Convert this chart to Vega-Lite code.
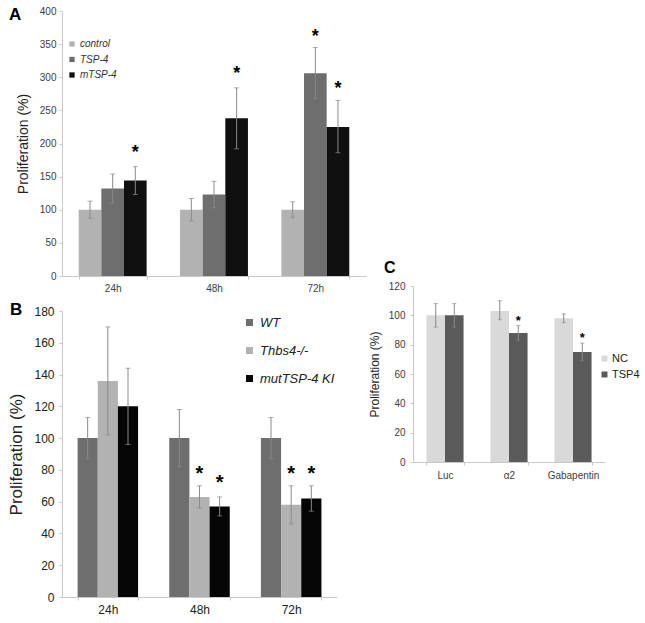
{
  "$schema": "https://vega.github.io/schema/vega-lite/v6.json",
  "padding": {"left": 7, "top": 6, "right": 0, "bottom": 0},
  "config": {
    "view": {"stroke": null},
    "font": "Liberation Sans",
    "axis": {"domainColor": "#c8c8c8", "tickColor": "#c8c8c8", "tickSize": 3, "labelColor": "#404040", "titleColor": "#222222", "titleFontWeight": "normal", "grid": false, "labelFont": "Liberation Sans", "titleFont": "Liberation Sans", "labelOverlap": false, "labelFlush": false},
    "legend": {"labelFont": "Liberation Sans", "labelColor": "#333333"},
    "title": {"font": "Liberation Sans", "fontWeight": "bold", "color": "#000000"}
  },
  "resolve": {"scale": {"color": "independent", "x": "independent", "y": "independent", "xOffset": "independent"}, "legend": {"color": "independent"}},
  "spacing": 2,
  "hconcat": [
    {
      "spacing": 8,
      "resolve": {"scale": {"color": "independent", "x": "independent", "y": "independent", "xOffset": "independent"}, "legend": {"color": "independent"}},
      "vconcat": [
        {
          "width": 304,
          "height": 265,
          "title": {"text": "A", "anchor": "start", "frame": "group", "fontSize": 17, "dx": -53, "dy": 18, "offset": 0, "baseline": "top"},
          "data": {"values": [
            {"time": "24h", "group": "control", "value": 100, "lo": 87, "hi": 113, "star": null},
            {"time": "24h", "group": "TSP-4", "value": 132, "lo": 110, "hi": 154, "star": null},
            {"time": "24h", "group": "mTSP-4", "value": 144, "lo": 123, "hi": 165, "star": 195},
            {"time": "48h", "group": "control", "value": 100, "lo": 83, "hi": 117, "star": null},
            {"time": "48h", "group": "TSP-4", "value": 123, "lo": 103, "hi": 143, "star": null},
            {"time": "48h", "group": "mTSP-4", "value": 238, "lo": 192, "hi": 284, "star": 314},
            {"time": "72h", "group": "control", "value": 100, "lo": 88, "hi": 112, "star": null},
            {"time": "72h", "group": "TSP-4", "value": 306, "lo": 268, "hi": 345, "star": 370},
            {"time": "72h", "group": "mTSP-4", "value": 225, "lo": 186, "hi": 265, "star": 292}
          ]},
          "encoding": {
            "x": {"field": "time", "type": "nominal", "sort": ["24h", "48h", "72h"], "scale": {"paddingInner": 0.33, "paddingOuter": 0.165}, "axis": {"title": null, "labelAngle": 0, "tickBand": "extent", "labelFontSize": 10, "labelPadding": 4}},
            "xOffset": {"field": "group", "type": "nominal", "sort": ["control", "TSP-4", "mTSP-4"], "scale": {"paddingInner": 0, "paddingOuter": 0}}
          },
          "layer": [
            {
              "mark": {"type": "bar"},
              "encoding": {
                "y": {"field": "value", "type": "quantitative", "scale": {"domain": [0, 400], "nice": false}, "axis": {"title": "Proliferation (%)", "values": [0, 50, 100, 150, 200, 250, 300, 350, 400], "labelFontSize": 10, "labelPadding": 3, "titleFontSize": 14, "titlePadding": 9}},
                "color": {"field": "group", "type": "nominal", "sort": ["control", "TSP-4", "mTSP-4"], "scale": {"domain": ["control", "TSP-4", "mTSP-4"], "range": ["#b2b2b2", "#6e6e6e", "#101010"]}, "legend": {"title": null, "orient": "none", "legendX": 5, "legendY": 28, "symbolType": "square", "symbolSize": 28, "labelFontSize": 10, "labelFontStyle": "italic", "rowPadding": 5.5, "labelOffset": 3}}
              }
            },
            {"mark": {"type": "rule", "color": "#8a8a8a", "strokeWidth": 1}, "encoding": {"y": {"field": "lo", "type": "quantitative", "axis": {"title": "Proliferation (%)", "values": [0, 50, 100, 150, 200, 250, 300, 350, 400], "labelFontSize": 10, "labelPadding": 3, "titleFontSize": 14, "titlePadding": 9}}, "y2": {"field": "hi"}}},
            {"mark": {"type": "tick", "color": "#8a8a8a", "size": 5, "thickness": 1}, "encoding": {"y": {"field": "lo", "type": "quantitative", "axis": {"title": "Proliferation (%)", "values": [0, 50, 100, 150, 200, 250, 300, 350, 400], "labelFontSize": 10, "labelPadding": 3, "titleFontSize": 14, "titlePadding": 9}}}},
            {"mark": {"type": "tick", "color": "#8a8a8a", "size": 5, "thickness": 1}, "encoding": {"y": {"field": "hi", "type": "quantitative", "axis": {"title": "Proliferation (%)", "values": [0, 50, 100, 150, 200, 250, 300, 350, 400], "labelFontSize": 10, "labelPadding": 3, "titleFontSize": 14, "titlePadding": 9}}}},
            {"transform": [{"filter": "datum.star != null"}], "mark": {"type": "text", "text": "*", "fontSize": 18, "fontWeight": "bold", "color": "#000000", "dy": 6}, "encoding": {"y": {"field": "star", "type": "quantitative", "axis": {"title": "Proliferation (%)", "values": [0, 50, 100, 150, 200, 250, 300, 350, 400], "labelFontSize": 10, "labelPadding": 3, "titleFontSize": 14, "titlePadding": 9}}}}
          ]
        },
        {
          "width": 275,
          "height": 286,
          "title": {"text": "B", "anchor": "start", "frame": "group", "fontSize": 17, "dx": -52, "dy": 14, "offset": 0, "baseline": "top"},
          "data": {"values": [
            {"time": "24h", "group": "WT", "value": 100, "lo": 87, "hi": 113, "star": null},
            {"time": "24h", "group": "Thbs4-/-", "value": 136, "lo": 102, "hi": 170, "star": null},
            {"time": "24h", "group": "mutTSP-4 KI", "value": 120, "lo": 96, "hi": 144, "star": null},
            {"time": "48h", "group": "WT", "value": 100, "lo": 82, "hi": 118, "star": null},
            {"time": "48h", "group": "Thbs4-/-", "value": 63, "lo": 56, "hi": 70, "star": 82},
            {"time": "48h", "group": "mutTSP-4 KI", "value": 57, "lo": 51, "hi": 63, "star": 76},
            {"time": "72h", "group": "WT", "value": 100, "lo": 87, "hi": 113, "star": null},
            {"time": "72h", "group": "Thbs4-/-", "value": 58, "lo": 46, "hi": 70, "star": 82},
            {"time": "72h", "group": "mutTSP-4 KI", "value": 62, "lo": 54, "hi": 70, "star": 82}
          ]},
          "encoding": {
            "x": {"field": "time", "type": "nominal", "sort": ["24h", "48h", "72h"], "scale": {"paddingInner": 0.34, "paddingOuter": 0.17}, "axis": {"title": null, "labelAngle": 0, "tickBand": "extent", "labelFontSize": 12, "labelColor": "#222222", "labelPadding": 4}},
            "xOffset": {"field": "group", "type": "nominal", "sort": ["WT", "Thbs4-/-", "mutTSP-4 KI"], "scale": {"paddingInner": 0, "paddingOuter": 0}}
          },
          "layer": [
            {
              "mark": {"type": "bar"},
              "encoding": {
                "y": {"field": "value", "type": "quantitative", "scale": {"domain": [0, 180], "nice": false}, "axis": {"title": "Proliferation (%)", "values": [0, 20, 40, 60, 80, 100, 120, 140, 160, 180], "labelFontSize": 12, "labelColor": "#222222", "labelPadding": 5, "titleFontSize": 17, "titlePadding": 8}},
                "color": {"field": "group", "type": "nominal", "sort": ["WT", "Thbs4-/-", "mutTSP-4 KI"], "scale": {"domain": ["WT", "Thbs4-/-", "mutTSP-4 KI"], "range": ["#6e6e6e", "#b2b2b2", "#050505"]}, "legend": {"title": null, "orient": "none", "legendX": 181, "legendY": 5, "symbolType": "square", "symbolSize": 49, "labelFontSize": 13, "labelFontStyle": "italic", "labelColor": "#222222", "rowPadding": 14, "labelOffset": 4}}
              }
            },
            {"mark": {"type": "rule", "color": "#8a8a8a", "strokeWidth": 1}, "encoding": {"y": {"field": "lo", "type": "quantitative", "axis": {"title": "Proliferation (%)", "values": [0, 20, 40, 60, 80, 100, 120, 140, 160, 180], "labelFontSize": 12, "labelColor": "#222222", "labelPadding": 5, "titleFontSize": 17, "titlePadding": 8}}, "y2": {"field": "hi"}}},
            {"mark": {"type": "tick", "color": "#8a8a8a", "size": 5, "thickness": 1}, "encoding": {"y": {"field": "lo", "type": "quantitative", "axis": {"title": "Proliferation (%)", "values": [0, 20, 40, 60, 80, 100, 120, 140, 160, 180], "labelFontSize": 12, "labelColor": "#222222", "labelPadding": 5, "titleFontSize": 17, "titlePadding": 8}}}},
            {"mark": {"type": "tick", "color": "#8a8a8a", "size": 5, "thickness": 1}, "encoding": {"y": {"field": "hi", "type": "quantitative", "axis": {"title": "Proliferation (%)", "values": [0, 20, 40, 60, 80, 100, 120, 140, 160, 180], "labelFontSize": 12, "labelColor": "#222222", "labelPadding": 5, "titleFontSize": 17, "titlePadding": 8}}}},
            {"transform": [{"filter": "datum.star != null"}], "mark": {"type": "text", "text": "*", "fontSize": 20, "fontWeight": "bold", "color": "#000000", "dy": 7}, "encoding": {"y": {"field": "star", "type": "quantitative", "axis": {"title": "Proliferation (%)", "values": [0, 20, 40, 60, 80, 100, 120, 140, 160, 180], "labelFontSize": 12, "labelColor": "#222222", "labelPadding": 5, "titleFontSize": 17, "titlePadding": 8}}}}
          ]
        }
      ]
    },
    {
      "spacing": 0,
      "resolve": {"scale": {"color": "independent", "x": "independent", "y": "independent", "xOffset": "independent"}, "legend": {"color": "independent"}},
      "vconcat": [
        {"width": 10, "height": 249, "data": {"values": []}, "mark": "point"},
        {
          "width": 192,
          "height": 176,
          "title": {"text": "C", "anchor": "start", "frame": "group", "fontSize": 16, "dx": -29, "offset": 5},
          "data": {"values": [
            {"cond": "Luc", "group": "NC", "value": 100, "lo": 92, "hi": 108, "star": null},
            {"cond": "Luc", "group": "TSP4", "value": 100, "lo": 92, "hi": 108, "star": null},
            {"cond": "α2", "group": "NC", "value": 103, "lo": 97, "hi": 110, "star": null},
            {"cond": "α2", "group": "TSP4", "value": 88, "lo": 83, "hi": 93, "star": 99},
            {"cond": "Gabapentin", "group": "NC", "value": 98, "lo": 95, "hi": 101, "star": null},
            {"cond": "Gabapentin", "group": "TSP4", "value": 75, "lo": 69, "hi": 81, "star": 87}
          ]},
          "encoding": {
            "x": {"field": "cond", "type": "nominal", "sort": ["Luc", "α2", "Gabapentin"], "scale": {"paddingInner": 0.42, "paddingOuter": 0.21}, "axis": {"title": null, "labelAngle": 0, "tickBand": "extent", "labelFontSize": 10, "labelPadding": 5}},
            "xOffset": {"field": "group", "type": "nominal", "sort": ["NC", "TSP4"], "scale": {"paddingInner": 0, "paddingOuter": 0}}
          },
          "layer": [
            {
              "mark": {"type": "bar"},
              "encoding": {
                "y": {"field": "value", "type": "quantitative", "scale": {"domain": [0, 120], "nice": false}, "axis": {"title": "Proliferation (%)", "values": [0, 20, 40, 60, 80, 100, 120], "labelFontSize": 10, "labelPadding": 5, "titleFontSize": 12, "titlePadding": 7}},
                "color": {"field": "group", "type": "nominal", "sort": ["NC", "TSP4"], "scale": {"domain": ["NC", "TSP4"], "range": ["#d9d9d9", "#5a5a5a"]}, "legend": {"title": null, "orient": "none", "legendX": 186, "legendY": 67, "symbolType": "square", "symbolSize": 36, "labelFontSize": 11, "labelColor": "#222222", "rowPadding": 4, "labelOffset": 2}}
              }
            },
            {"mark": {"type": "rule", "color": "#8a8a8a", "strokeWidth": 1}, "encoding": {"y": {"field": "lo", "type": "quantitative", "axis": {"title": "Proliferation (%)", "values": [0, 20, 40, 60, 80, 100, 120], "labelFontSize": 10, "labelPadding": 5, "titleFontSize": 12, "titlePadding": 7}}, "y2": {"field": "hi"}}},
            {"mark": {"type": "tick", "color": "#8a8a8a", "size": 4, "thickness": 1}, "encoding": {"y": {"field": "lo", "type": "quantitative", "axis": {"title": "Proliferation (%)", "values": [0, 20, 40, 60, 80, 100, 120], "labelFontSize": 10, "labelPadding": 5, "titleFontSize": 12, "titlePadding": 7}}}},
            {"mark": {"type": "tick", "color": "#8a8a8a", "size": 4, "thickness": 1}, "encoding": {"y": {"field": "hi", "type": "quantitative", "axis": {"title": "Proliferation (%)", "values": [0, 20, 40, 60, 80, 100, 120], "labelFontSize": 10, "labelPadding": 5, "titleFontSize": 12, "titlePadding": 7}}}},
            {"transform": [{"filter": "datum.star != null"}], "mark": {"type": "text", "text": "*", "fontSize": 13, "fontWeight": "bold", "color": "#000000", "dy": 4}, "encoding": {"y": {"field": "star", "type": "quantitative", "axis": {"title": "Proliferation (%)", "values": [0, 20, 40, 60, 80, 100, 120], "labelFontSize": 10, "labelPadding": 5, "titleFontSize": 12, "titlePadding": 7}}}}
          ]
        }
      ]
    }
  ]
}
